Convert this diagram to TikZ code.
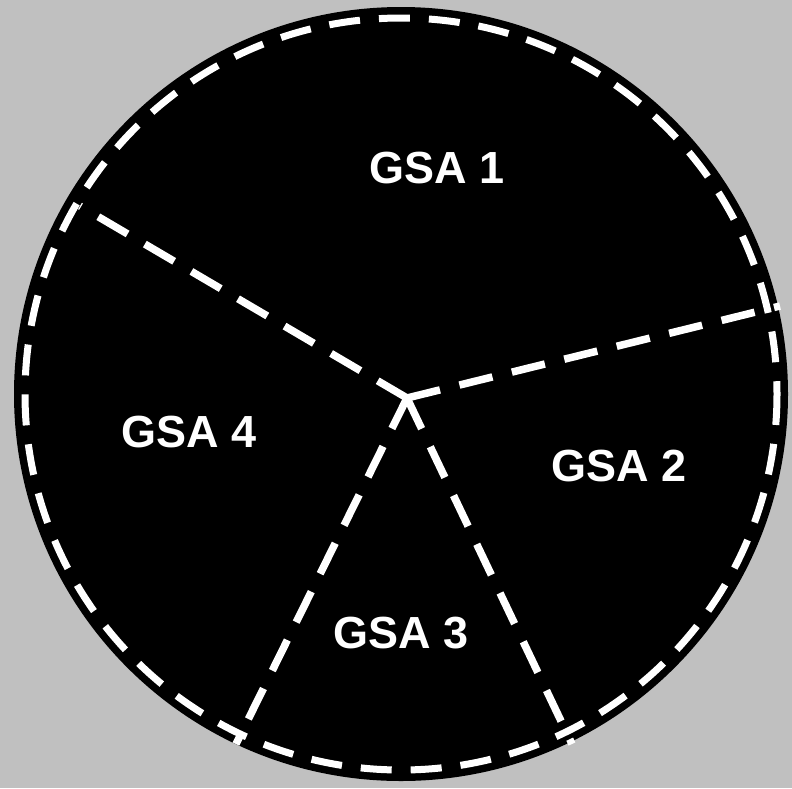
\documentclass[tikz,border=0pt]{standalone}
\usepackage{fontspec}
\setmainfont{Liberation Sans}
\begin{document}
\begin{tikzpicture}[x=1pt,y=-1pt,
  border/.style={white,line width=7pt,dash pattern=on 31pt off 19pt},
  divider/.style={white,line width=7.5pt,dash pattern=on 34pt off 20pt},
  lbl/.style={white,font=\bfseries\fontsize{45}{45}\selectfont,inner sep=0pt}]
\fill[fill={rgb,255:red,192;green,192;blue,192}] (0,0) rectangle (792,788);
\useasboundingbox (0,0) rectangle (792,788);
\fill[black] (401,394) circle (387);
\draw[border] (401,394) circle (376);
\coordinate (c) at (407,398);
\coordinate (ul) at (80,206);
\coordinate (r) at (780,306);
\coordinate (bl) at (236,744);
\coordinate (br) at (572,744);
\draw[divider] (c) -- (ul);
\draw[divider] (c) -- (r);
\draw[divider] (c) -- (bl);
\draw[divider] (c) -- (br);
\node[lbl] (g1) at (437,168) {GSA 1};
\node[lbl] (g2) at (619,466) {GSA 2};
\node[lbl] (g3) at (401,633) {GSA 3};
\node[lbl] (g4) at (189,432) {GSA 4};
\end{tikzpicture}
\end{document}
